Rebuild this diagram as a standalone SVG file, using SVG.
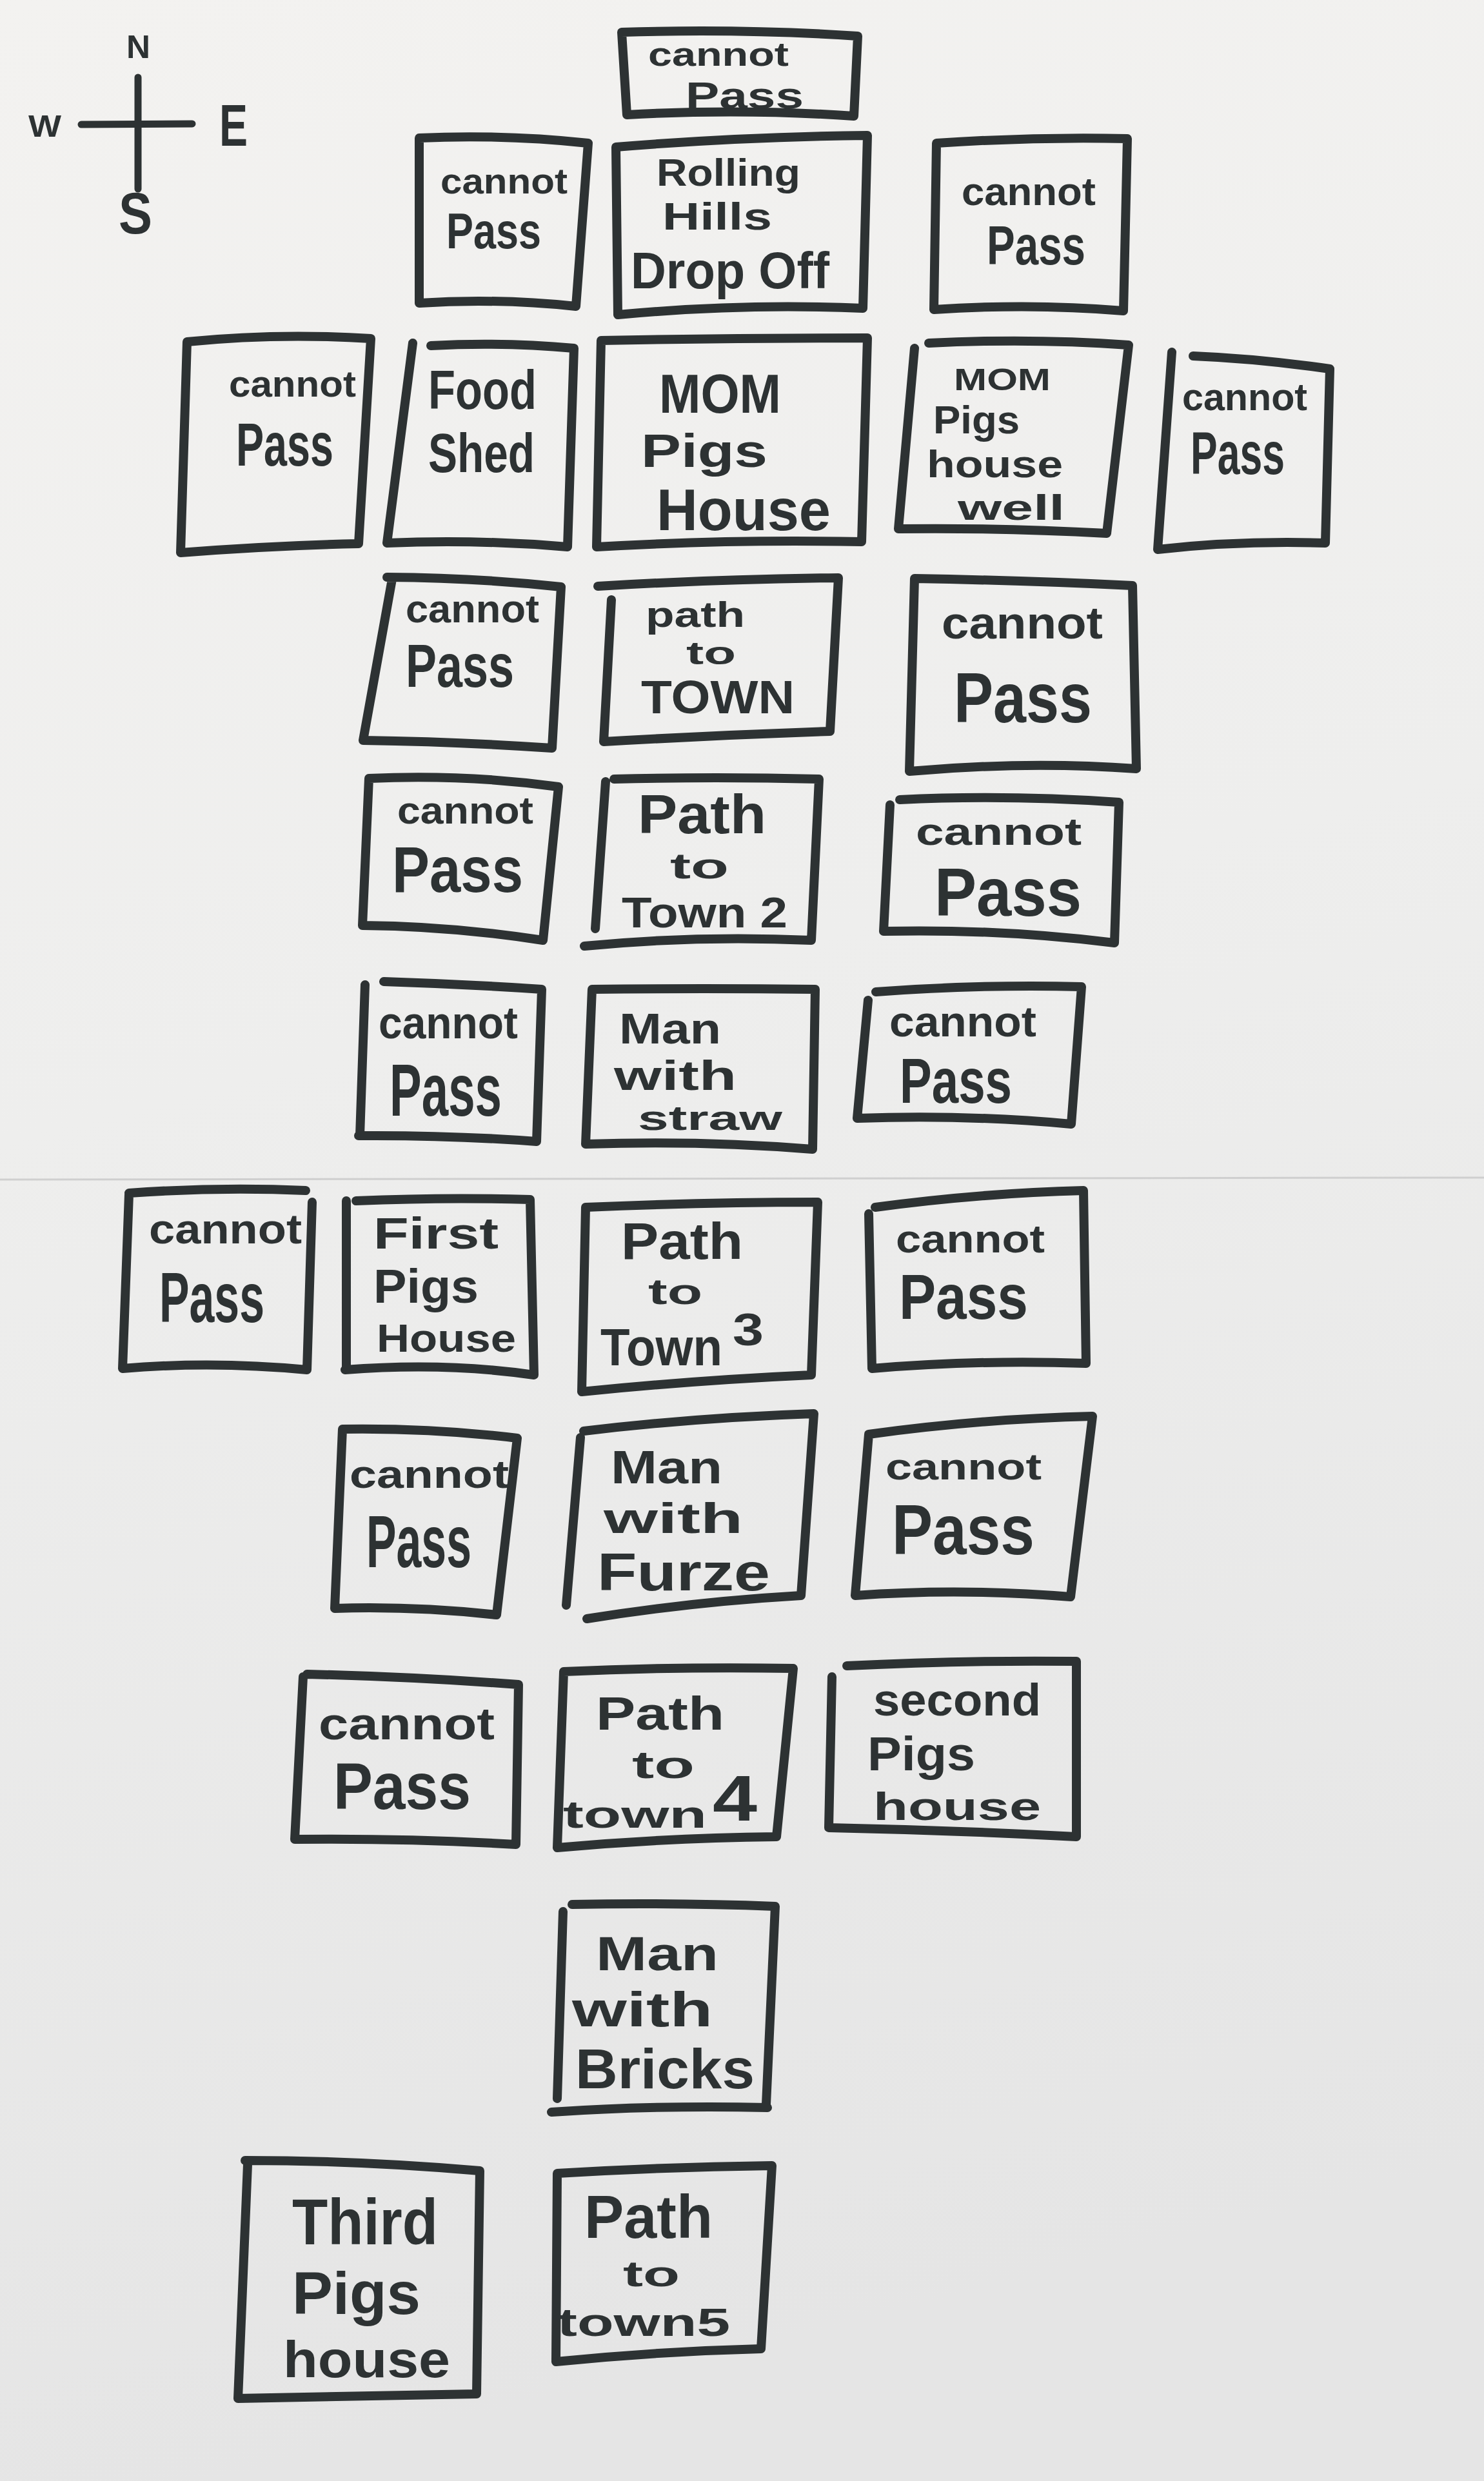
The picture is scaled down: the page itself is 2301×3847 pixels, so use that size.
<svg xmlns="http://www.w3.org/2000/svg" width="2301" height="3847" viewBox="0 0 2301 3847">
  <defs>
    <linearGradient id="paper" x1="0" y1="0" x2="0.15" y2="1">
      <stop offset="0" stop-color="#f3f2f0"/>
      <stop offset="0.45" stop-color="#eeeeed"/>
      <stop offset="1" stop-color="#e5e5e5"/>
    </linearGradient>
    <style>
      .box { fill: none; stroke: #2d3233; stroke-width: 14; stroke-linejoin: round; stroke-linecap: round; }
      .ln { fill: none; stroke: #2d3233; stroke-width: 11; stroke-linecap: round; }
      .t { font-family: "Liberation Sans", Arial, "DejaVu Sans", sans-serif; font-weight: bold; fill: #2d3233; }
      .crease { stroke: #cfcfcf; stroke-width: 3; }
    </style>
  </defs>

  <!-- paper -->
  <rect x="0" y="0" width="2301" height="3847" fill="url(#paper)"/>
  <line class="crease" x1="0" y1="1829" x2="2301" y2="1826"/>

  <!-- compass rose -->
  <g id="compass">
    <line class="ln" x1="214" y1="120" x2="214" y2="293"/>
    <line class="ln" x1="126" y1="193" x2="298" y2="192"/>
    <text class="t" x="196" y="90" font-size="50" textLength="37" lengthAdjust="spacingAndGlyphs">N</text>
    <text class="t" x="44" y="212" font-size="48" textLength="51" lengthAdjust="spacingAndGlyphs">W</text>
    <text class="t" x="340" y="226" font-size="90" textLength="44" lengthAdjust="spacingAndGlyphs">E</text>
    <text class="t" x="184" y="362" font-size="90" textLength="52" lengthAdjust="spacingAndGlyphs">S</text>
  </g>

  <g id="connectors"/>

  <!-- row 1 -->
  <g id="n01-cannot-pass">
    <path class="box" d="M964,50 Q1150,44 1330,56 L1324,180 Q1150,168 972,178 Z"/>
    <text class="t" x="1005" y="102" font-size="52" textLength="218" lengthAdjust="spacingAndGlyphs">cannot</text>
    <text class="t" x="1063" y="168" font-size="58" textLength="183" lengthAdjust="spacingAndGlyphs">Pass</text>
  </g>

  <!-- row 2 -->
  <g id="n02-cannot-pass">
    <path class="box" d="M650,214 Q780,208 912,222 L893,475 Q770,462 650,470 Z"/>
    <text class="t" x="683" y="300" font-size="56" textLength="197" lengthAdjust="spacingAndGlyphs">cannot</text>
    <text class="t" x="692" y="385" font-size="78" textLength="147" lengthAdjust="spacingAndGlyphs">Pass</text>
  </g>
  <g id="n03-rolling-hills">
    <path class="box" d="M955,228 Q1150,212 1345,210 L1338,478 Q1150,470 958,488 Z"/>
    <text class="t" x="1018" y="288" font-size="60" textLength="223" lengthAdjust="spacingAndGlyphs">Rolling</text>
    <text class="t" x="1027" y="356" font-size="60" textLength="170" lengthAdjust="spacingAndGlyphs">Hills</text>
    <text class="t" x="978" y="447" font-size="80" textLength="308" lengthAdjust="spacingAndGlyphs">Drop Off</text>
  </g>
  <g id="n04-cannot-pass">
    <path class="box" d="M1452,222 Q1600,212 1748,215 L1742,482 Q1600,470 1448,480 Z"/>
    <text class="t" x="1491" y="318" font-size="62" textLength="208" lengthAdjust="spacingAndGlyphs">cannot</text>
    <text class="t" x="1530" y="410" font-size="85" textLength="153" lengthAdjust="spacingAndGlyphs">Pass</text>
  </g>

  <!-- row 3 -->
  <g id="n05-cannot-pass">
    <path class="box" d="M290,530 Q430,516 575,525 L556,843 Q420,846 280,857 Z"/>
    <text class="t" x="355" y="615" font-size="58" textLength="197" lengthAdjust="spacingAndGlyphs">cannot</text>
    <text class="t" x="366" y="722" font-size="95" textLength="151" lengthAdjust="spacingAndGlyphs">Pass</text>
  </g>
  <g id="n06-food-shed">
    <path class="box" d="M640,532 L600,842 Q740,836 880,848 L890,540 Q780,530 668,536"/>
    <text class="t" x="664" y="634" font-size="85" textLength="168" lengthAdjust="spacingAndGlyphs">Food</text>
    <text class="t" x="664" y="732" font-size="86" textLength="165" lengthAdjust="spacingAndGlyphs">Shed</text>
  </g>
  <g id="n07-mom-pigs-house">
    <path class="box" d="M932,528 Q1140,524 1345,524 L1336,840 Q1130,836 925,848 Z"/>
    <text class="t" x="1022" y="640" font-size="85" textLength="189" lengthAdjust="spacingAndGlyphs">MOM</text>
    <text class="t" x="994" y="724" font-size="72" textLength="196" lengthAdjust="spacingAndGlyphs">Pigs</text>
    <text class="t" x="1018" y="822" font-size="90" textLength="270" lengthAdjust="spacingAndGlyphs">House</text>
  </g>
  <g id="n08-mom-pigs-house-well">
    <path class="box" d="M1440,532 Q1600,524 1750,535 L1716,827 Q1550,818 1393,820 L1418,540"/>
    <text class="t" x="1479" y="605" font-size="48" textLength="150" lengthAdjust="spacingAndGlyphs">MOM</text>
    <text class="t" x="1447" y="672" font-size="62" textLength="134" lengthAdjust="spacingAndGlyphs">Pigs</text>
    <text class="t" x="1437" y="740" font-size="60" textLength="211" lengthAdjust="spacingAndGlyphs">house</text>
    <text class="t" x="1485" y="806" font-size="56" textLength="166" lengthAdjust="spacingAndGlyphs">well</text>
  </g>
  <g id="n09-cannot-pass">
    <path class="box" d="M1817,546 L1795,852 Q1920,838 2055,842 L2062,572 Q1950,556 1850,552"/>
    <text class="t" x="1833" y="636" font-size="60" textLength="194" lengthAdjust="spacingAndGlyphs">cannot</text>
    <text class="t" x="1846" y="735" font-size="93" textLength="146" lengthAdjust="spacingAndGlyphs">Pass</text>
  </g>

  <!-- row 4 -->
  <g id="n10-cannot-pass">
    <path class="box" d="M600,895 Q740,896 870,910 L856,1160 Q710,1150 563,1148 L608,898"/>
    <text class="t" x="629" y="965" font-size="62" textLength="207" lengthAdjust="spacingAndGlyphs">cannot</text>
    <text class="t" x="629" y="1065" font-size="95" textLength="168" lengthAdjust="spacingAndGlyphs">Pass</text>
  </g>
  <g id="n11-path-to-town">
    <path class="box" d="M927,909 Q1110,898 1300,896 L1287,1134 Q1110,1140 936,1150 L948,930"/>
    <text class="t" x="1001" y="972" font-size="56" textLength="154" lengthAdjust="spacingAndGlyphs">path</text>
    <text class="t" x="1064" y="1030" font-size="50" textLength="77" lengthAdjust="spacingAndGlyphs">to</text>
    <text class="t" x="994" y="1106" font-size="72" textLength="238" lengthAdjust="spacingAndGlyphs">TOWN</text>
  </g>
  <g id="n12-cannot-pass">
    <path class="box" d="M1418,897 Q1590,900 1756,908 L1762,1192 Q1590,1180 1410,1196 Z"/>
    <text class="t" x="1460" y="990" font-size="70" textLength="250" lengthAdjust="spacingAndGlyphs">cannot</text>
    <text class="t" x="1479" y="1120" font-size="110" textLength="214" lengthAdjust="spacingAndGlyphs">Pass</text>
  </g>

  <!-- row 5 -->
  <g id="n13-cannot-pass">
    <path class="box" d="M572,1207 Q720,1200 866,1220 L842,1458 Q700,1436 562,1435 Z"/>
    <text class="t" x="616" y="1277" font-size="60" textLength="211" lengthAdjust="spacingAndGlyphs">cannot</text>
    <text class="t" x="608" y="1383" font-size="100" textLength="203" lengthAdjust="spacingAndGlyphs">Pass</text>
  </g>
  <g id="n14-path-to-town-2">
    <path class="box" d="M952,1208 Q1110,1204 1270,1208 L1258,1458 Q1080,1450 906,1467 M939,1212 L923,1440"/>
    <text class="t" x="989" y="1292" font-size="85" textLength="199" lengthAdjust="spacingAndGlyphs">Path</text>
    <text class="t" x="1039" y="1362" font-size="55" textLength="91" lengthAdjust="spacingAndGlyphs">to</text>
    <text class="t" x="964" y="1438" font-size="66" textLength="257" lengthAdjust="spacingAndGlyphs">Town 2</text>
  </g>
  <g id="n15-cannot-pass">
    <path class="box" d="M1395,1240 Q1560,1232 1735,1244 L1728,1462 Q1550,1440 1370,1444 L1380,1248"/>
    <text class="t" x="1420" y="1310" font-size="60" textLength="257" lengthAdjust="spacingAndGlyphs">cannot</text>
    <text class="t" x="1449" y="1420" font-size="106" textLength="228" lengthAdjust="spacingAndGlyphs">Pass</text>
  </g>

  <!-- row 6 -->
  <g id="n16-cannot-pass">
    <path class="box" d="M595,1522 Q720,1526 840,1534 L832,1770 Q700,1760 556,1761 M566,1527 L558,1761"/>
    <text class="t" x="587" y="1610" font-size="70" textLength="216" lengthAdjust="spacingAndGlyphs">cannot</text>
    <text class="t" x="604" y="1730" font-size="115" textLength="174" lengthAdjust="spacingAndGlyphs">Pass</text>
  </g>
  <g id="n17-man-with-straw">
    <path class="box" d="M918,1534 Q1090,1532 1264,1534 L1260,1782 Q1090,1768 908,1774 Z"/>
    <text class="t" x="960" y="1618" font-size="66" textLength="158" lengthAdjust="spacingAndGlyphs">Man</text>
    <text class="t" x="952" y="1690" font-size="64" textLength="190" lengthAdjust="spacingAndGlyphs">with</text>
    <text class="t" x="989" y="1752" font-size="53" textLength="224" lengthAdjust="spacingAndGlyphs">straw</text>
  </g>
  <g id="n18-cannot-pass">
    <path class="box" d="M1358,1538 Q1520,1526 1677,1530 L1661,1743 Q1500,1728 1329,1734 L1346,1551"/>
    <text class="t" x="1379" y="1607" font-size="66" textLength="228" lengthAdjust="spacingAndGlyphs">cannot</text>
    <text class="t" x="1395" y="1710" font-size="98" textLength="174" lengthAdjust="spacingAndGlyphs">Pass</text>
  </g>

  <!-- row 7 -->
  <g id="n19-cannot-pass">
    <path class="box" d="M200,1850 Q340,1840 474,1846 M484,1864 L476,2124 Q330,2110 190,2122 L200,1852"/>
    <text class="t" x="231" y="1928" font-size="65" textLength="237" lengthAdjust="spacingAndGlyphs">cannot</text>
    <text class="t" x="247" y="2050" font-size="110" textLength="163" lengthAdjust="spacingAndGlyphs">Pass</text>
  </g>
  <g id="n20-first-pigs-house">
    <path class="box" d="M552,1862 Q690,1856 822,1860 L828,2132 Q690,2112 535,2124 M537,1862 L537,2122"/>
    <text class="t" x="579" y="1936" font-size="68" textLength="194" lengthAdjust="spacingAndGlyphs">First</text>
    <text class="t" x="579" y="2020" font-size="75" textLength="163" lengthAdjust="spacingAndGlyphs">Pigs</text>
    <text class="t" x="584" y="2096" font-size="62" textLength="216" lengthAdjust="spacingAndGlyphs">House</text>
  </g>
  <g id="n21-path-to-town-3">
    <path class="box" d="M908,1872 Q1090,1864 1268,1864 L1258,2132 Q1080,2140 902,2158 Z"/>
    <text class="t" x="963" y="1952" font-size="80" textLength="189" lengthAdjust="spacingAndGlyphs">Path</text>
    <text class="t" x="1005" y="2022" font-size="55" textLength="84" lengthAdjust="spacingAndGlyphs">to</text>
    <text class="t" x="931" y="2117" font-size="82" textLength="189" lengthAdjust="spacingAndGlyphs">Town</text>
    <text class="t" x="1136" y="2086" font-size="70" textLength="48" lengthAdjust="spacingAndGlyphs">3</text>
  </g>
  <g id="n22-cannot-pass">
    <path class="box" d="M1357,1872 Q1520,1850 1680,1846 L1684,2114 Q1520,2108 1352,2122 L1347,1882"/>
    <text class="t" x="1389" y="1942" font-size="62" textLength="231" lengthAdjust="spacingAndGlyphs">cannot</text>
    <text class="t" x="1394" y="2045" font-size="98" textLength="200" lengthAdjust="spacingAndGlyphs">Pass</text>
  </g>

  <!-- row 8 -->
  <g id="n23-cannot-pass">
    <path class="box" d="M531,2216 Q670,2214 802,2230 L770,2504 Q640,2490 519,2494 Z"/>
    <text class="t" x="542" y="2307" font-size="62" textLength="247" lengthAdjust="spacingAndGlyphs">cannot</text>
    <text class="t" x="568" y="2430" font-size="115" textLength="163" lengthAdjust="spacingAndGlyphs">Pass</text>
  </g>
  <g id="n24-man-with-furze">
    <path class="box" d="M905,2219 Q1080,2198 1262,2192 L1242,2474 Q1070,2484 910,2510 M900,2229 L878,2489"/>
    <text class="t" x="947" y="2300" font-size="72" textLength="173" lengthAdjust="spacingAndGlyphs">Man</text>
    <text class="t" x="936" y="2377" font-size="66" textLength="216" lengthAdjust="spacingAndGlyphs">with</text>
    <text class="t" x="926" y="2466" font-size="82" textLength="268" lengthAdjust="spacingAndGlyphs">Furze</text>
  </g>
  <g id="n25-cannot-pass">
    <path class="box" d="M1347,2224 Q1520,2200 1694,2196 L1660,2476 Q1490,2462 1326,2474 Z"/>
    <text class="t" x="1373" y="2294" font-size="58" textLength="242" lengthAdjust="spacingAndGlyphs">cannot</text>
    <text class="t" x="1383" y="2410" font-size="110" textLength="221" lengthAdjust="spacingAndGlyphs">Pass</text>
  </g>

  <!-- row 9 -->
  <g id="n26-cannot-pass">
    <path class="box" d="M476,2596 Q640,2600 804,2612 L800,2860 Q630,2850 457,2852 L470,2600"/>
    <text class="t" x="494" y="2697" font-size="70" textLength="273" lengthAdjust="spacingAndGlyphs">cannot</text>
    <text class="t" x="517" y="2805" font-size="102" textLength="213" lengthAdjust="spacingAndGlyphs">Pass</text>
  </g>
  <g id="n27-path-to-town-4">
    <path class="box" d="M874,2592 Q1050,2584 1230,2587 L1204,2848 Q1030,2850 864,2865 Z"/>
    <text class="t" x="924" y="2682" font-size="72" textLength="199" lengthAdjust="spacingAndGlyphs">Path</text>
    <text class="t" x="980" y="2757" font-size="60" textLength="97" lengthAdjust="spacingAndGlyphs">to</text>
    <text class="t" x="873" y="2834" font-size="60" textLength="223" lengthAdjust="spacingAndGlyphs">town</text>
    <text class="t" x="1105" y="2823" font-size="100" textLength="69" lengthAdjust="spacingAndGlyphs">4</text>
  </g>
  <g id="n28-second-pigs-house">
    <path class="box" d="M1313,2583 Q1490,2574 1669,2576 L1669,2848 Q1480,2838 1285,2834 L1290,2600"/>
    <text class="t" x="1354" y="2660" font-size="70" textLength="260" lengthAdjust="spacingAndGlyphs">second</text>
    <text class="t" x="1345" y="2745" font-size="75" textLength="167" lengthAdjust="spacingAndGlyphs">Pigs</text>
    <text class="t" x="1354" y="2822" font-size="62" textLength="260" lengthAdjust="spacingAndGlyphs">house</text>
  </g>

  <!-- row 10 -->
  <g id="n29-man-with-bricks">
    <path class="box" d="M887,2953 Q1050,2950 1202,2956 L1188,3263 M1190,3268 Q1020,3264 855,3275 M873,2964 L864,3254"/>
    <text class="t" x="924" y="3055" font-size="75" textLength="190" lengthAdjust="spacingAndGlyphs">Man</text>
    <text class="t" x="887" y="3142" font-size="76" textLength="218" lengthAdjust="spacingAndGlyphs">with</text>
    <text class="t" x="892" y="3238" font-size="88" textLength="278" lengthAdjust="spacingAndGlyphs">Bricks</text>
  </g>

  <!-- row 11 -->
  <g id="n30-third-pigs-house">
    <path class="box" d="M380,3350 Q560,3350 744,3366 L739,3712 Q560,3716 369,3719 L384,3356"/>
    <text class="t" x="453" y="3480" font-size="100" textLength="226" lengthAdjust="spacingAndGlyphs">Third</text>
    <text class="t" x="453" y="3588" font-size="92" textLength="199" lengthAdjust="spacingAndGlyphs">Pigs</text>
    <text class="t" x="439" y="3686" font-size="80" textLength="259" lengthAdjust="spacingAndGlyphs">house</text>
  </g>
  <g id="n31-path-to-town-5">
    <path class="box" d="M864,3370 Q1030,3360 1197,3358 L1180,3642 Q1020,3646 862,3662 Z"/>
    <text class="t" x="906" y="3470" font-size="95" textLength="199" lengthAdjust="spacingAndGlyphs">Path</text>
    <text class="t" x="966" y="3545" font-size="55" textLength="88" lengthAdjust="spacingAndGlyphs">to</text>
    <text class="t" x="864" y="3622" font-size="62" textLength="268" lengthAdjust="spacingAndGlyphs">town5</text>
  </g>
</svg>
